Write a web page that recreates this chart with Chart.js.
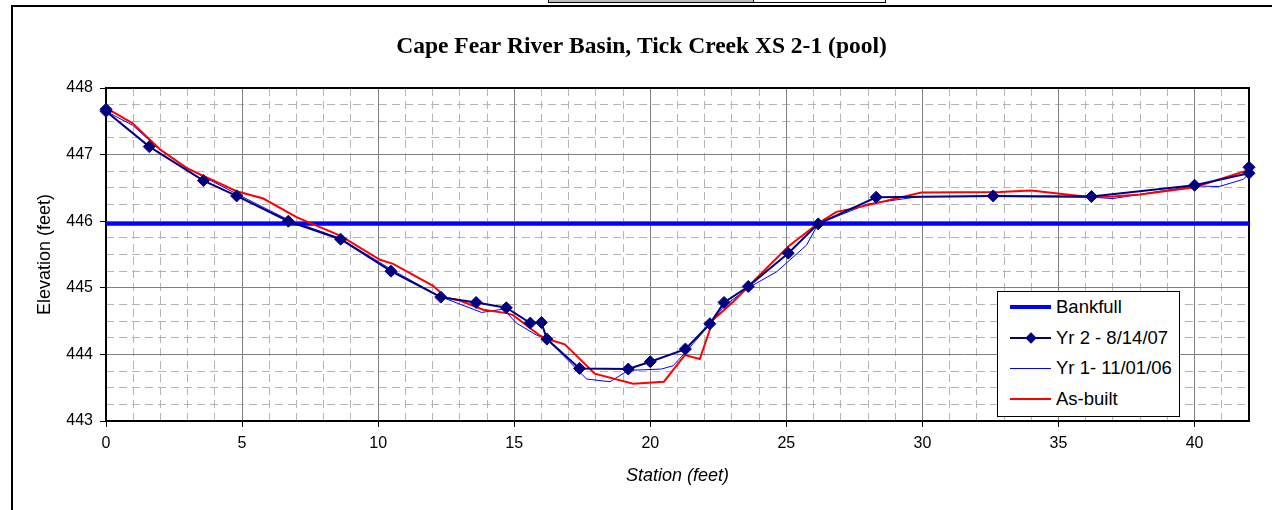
<!DOCTYPE html>
<html>
<head>
<meta charset="utf-8">
<script src="https://cdn.jsdelivr.net/npm/chart.js@4.4.1/dist/chart.umd.min.js"></script>
<style>
  html, body { margin: 0; padding: 0; background: #fff; }
  #wrap { position: relative; width: 1272px; height: 510px; overflow: hidden; background: #fff; }
  #c { position: absolute; left: 0; top: 0; }
  .frameTop { position: absolute; left: 11px; top: 5px; width: 1261px; height: 2px; background: #000; }
  .frameLeft { position: absolute; left: 11px; top: 5px; width: 2px; height: 505px; background: #000; }
  .tab { position: absolute; left: 548px; top: -2px; width: 336px; height: 3px; border: 1px solid #000; background: #fff; }
  .tab .g { position: absolute; left: 0; top: 0; width: 204px; height: 3px; background: #c0c0c0; border-right: 1px solid #000; }
  #legend { position: absolute; left: 997px; top: 291px; width: 181px; height: 124px; border: 1px solid #000; background: #fff;
            font-family: "Liberation Sans", Arial, sans-serif; font-size: 18.5px; color: #000; }
  .row { position: absolute; left: 0; width: 100%; height: 0; }
  .sample { position: absolute; left: 12px; width: 41px; }
  .mark { position: absolute; width: 8px; height: 8px; transform: rotate(45deg); }
  .txt { position: absolute; left: 58px; top: -11px; line-height: 22px; white-space: nowrap; }
</style>
</head>
<body>
<div id="wrap">
  <canvas id="c" width="1272" height="510"></canvas>
  <div class="frameTop"></div>
  <div class="frameLeft"></div>
  <div class="tab"><div class="g"></div></div>
  <div id="legend"></div>
</div>
<script>
// ---- Data ----
const titleText = 'Cape Fear River Basin, Tick Creek XS 2-1 (pool)';
const xAxisTitle = 'Station (feet)';
const yAxisTitle = 'Elevation (feet)';
const seriesNames = ['Bankfull', 'Yr 2 - 8/14/07', 'Yr 1- 11/01/06', 'As-built'];

const xTickValues = [0, 5, 10, 15, 20, 25, 30, 35, 40];
const yTickValues = [443, 444, 445, 446, 447, 448];

const bankfullX = [0, 42];
const bankfullY = [445.96, 445.96];

const yr2X = [0, 0, 1.59, 3.58, 4.80, 6.70, 8.62, 10.47, 12.30, 13.60, 14.71, 15.59, 16.00, 16.20, 17.40,
              19.19, 20.00, 21.29, 22.19, 22.71, 23.60, 25.07, 26.17, 28.30, 32.60, 36.21, 40.00, 42.00, 42.00];
const yr2Y = [447.68, 447.65, 447.12, 446.61, 446.38, 446.00, 445.73, 445.25, 444.86, 444.78, 444.70, 444.47, 444.48, 444.23, 443.79,
              443.78, 443.89, 444.08, 444.46, 444.78, 445.02, 445.52, 445.96, 446.36, 446.38, 446.37, 446.54, 446.72, 446.81];

const yr1X = [0, 0.98, 1.98, 2.96, 4.80, 6.70, 8.62, 10.50, 12.27, 13.80, 14.60, 15.08, 15.82, 16.20, 17.66, 18.52,
              19.19, 20.41, 20.84, 21.29, 22.19, 22.70, 23.60, 24.64, 25.74, 26.17, 26.84, 28.00, 29.90, 32.60, 36.20,
              37.00, 40.00, 40.90, 41.80, 42.00];
const yr1Y = [447.65, 447.44, 447.07, 446.80, 446.41, 446.02, 445.74, 445.27, 444.87, 444.63, 444.68, 444.47, 444.29, 444.23, 443.63, 443.59,
              443.76, 443.78, 443.83, 444.03, 444.45, 444.72, 445.00, 445.24, 445.64, 445.96, 446.07, 446.26, 446.37, 446.37, 446.36,
              446.34, 446.53, 446.52, 446.63, 446.72];

const asBuiltX = [0, 0.98, 1.98, 2.96, 3.58, 4.80, 5.78, 7.00, 8.62, 10.07, 10.55, 12.02, 12.50, 13.00, 13.86, 14.72,
                  14.96, 15.95, 16.30, 16.86, 17.96, 19.37, 20.50, 21.27, 21.82, 22.31, 23.05, 23.60, 25.07, 26.17,
                  26.84, 27.33, 28.19, 29.96, 32.84, 34.00, 36.20, 37.00, 38.00, 40.00, 42.00];
const asBuiltY = [447.70, 447.47, 447.08, 446.80, 446.68, 446.45, 446.34, 446.06, 445.78, 445.42, 445.36, 445.03, 444.85, 444.81, 444.67, 444.62,
                  444.59, 444.28, 444.22, 444.15, 443.71, 443.56, 443.59, 443.99, 443.93, 444.52, 444.79, 445.02, 445.62, 445.97,
                  446.14, 446.18, 446.26, 446.43, 446.44, 446.46, 446.36, 446.37, 446.40, 446.51, 446.77];

// ---- helpers ----
const zip = (xs, ys) => xs.map((x, i) => ({ x: x, y: ys[i] }));
const sans = '"Liberation Sans", Arial, sans-serif';
const serif = '"Liberation Serif", "Times New Roman", serif';

const datasets = [
  { label: seriesNames[0], data: zip(bankfullX, bankfullY), borderColor: '#0000FF', backgroundColor: '#0000FF',
    borderWidth: 4, pointRadius: 0, showLine: true, order: 3, clip: false },
  { label: seriesNames[1], data: zip(yr2X, yr2Y), borderColor: '#000080', backgroundColor: '#000080',
    borderWidth: 2, pointStyle: 'rectRot', pointRadius: 6, pointBorderWidth: 1,
    pointBackgroundColor: '#000080', pointBorderColor: '#000080', showLine: true, order: 0, clip: false },
  { label: seriesNames[2], data: zip(yr1X, yr1Y), borderColor: '#0000FF', backgroundColor: '#0000FF',
    borderWidth: 1, pointRadius: 0, showLine: true, order: 2, clip: false },
  { label: seriesNames[3], data: zip(asBuiltX, asBuiltY), borderColor: '#FF0000', backgroundColor: '#FF0000',
    borderWidth: 2, pointRadius: 0, showLine: true, order: 1, clip: false }
];

const areaBorder = {
  id: 'areaBorder',
  beforeDatasetsDraw(chart) {
    const { ctx, chartArea: a } = chart;
    ctx.save();
    ctx.strokeStyle = '#000';
    ctx.lineWidth = 2;
    ctx.strokeRect(a.left, a.top, a.right - a.left, a.bottom - a.top);
    ctx.restore();
  }
};

const minorXTicks = s => { const t = []; for (let v = s.min; v <= s.max + 1e-9; v += 1) t.push({ value: v }); s.ticks = t; };
const minorYTicks = s => { const t = []; for (let v = s.min; v <= s.max + 1e-9; v += 0.25) t.push({ value: v }); s.ticks = t; };

const chart = new Chart(document.getElementById('c'), {
  type: 'scatter',
  data: { datasets: datasets },
  plugins: [areaBorder],
  options: {
    responsive: false,
    animation: false,
    devicePixelRatio: 1,
    layout: { padding: { left: 34, right: 23, top: 0, bottom: 23 } },
    plugins: {
      legend: { display: false },
      tooltip: { enabled: false },
      title: { display: true, text: titleText, color: '#000',
               font: { family: serif, size: 23.5, weight: 'bold', lineHeight: 1.2 },
               padding: { top: 33, bottom: 26.8 } }
    },
    scales: {
      xm: { type: 'linear', position: 'bottom', min: 0, max: 42,
            afterBuildTicks: minorXTicks, afterFit: s => { s.height = 0; },
            ticks: { display: false }, title: { display: false },
            grid: { color: '#b4b4b4', lineWidth: 1, drawTicks: false, z: -1 },
            border: { display: false, dash: [8, 5] } },
      ym: { type: 'linear', position: 'left', min: 443, max: 448,
            afterBuildTicks: minorYTicks, afterFit: s => { s.width = 0; },
            ticks: { display: false }, title: { display: false },
            grid: { color: '#b4b4b4', lineWidth: 1, drawTicks: false, z: -1 },
            border: { display: false, dash: [8, 5] } },
      x: { type: 'linear', position: 'bottom', min: 0, max: 42,
           afterBuildTicks: s => { s.ticks = xTickValues.map(v => ({ value: v })); },
           afterFit: s => { s.height = 66; },
           grid: { color: '#808080', lineWidth: 1, tickLength: 6, tickColor: '#000', tickWidth: 1 },
           border: { display: true, color: '#000', width: 2 },
           ticks: { padding: 7, color: '#000', autoSkip: false, maxRotation: 0, font: { family: sans, size: 16 } },
           title: { display: true, text: xAxisTitle, color: '#000', padding: { top: 0, bottom: 0 },
                    font: { family: sans, size: 18, style: 'italic', lineHeight: 1.2 } } },
      y: { type: 'linear', position: 'left', min: 443, max: 448,
           afterBuildTicks: s => { s.ticks = yTickValues.map(v => ({ value: v })); },
           afterFit: s => { s.width = 72; },
           grid: { color: '#808080', lineWidth: 1, tickLength: 6, tickColor: '#000', tickWidth: 1 },
           border: { display: true, color: '#000', width: 2 },
           ticks: { padding: 7, color: '#000', autoSkip: false, font: { family: sans, size: 16 } },
           title: { display: true, text: yAxisTitle, color: '#000', padding: { top: 0, bottom: 0 },
                    font: { family: sans, size: 18, lineHeight: 1.2 } } }
    }
  }
});

// ---- HTML legend built from the chart's datasets ----
const legendEl = document.getElementById('legend');
chart.data.datasets.forEach((ds, i) => {
  const row = document.createElement('div');
  row.className = 'row';
  row.style.top = (14.7 + i * 30.8) + 'px';
  const sample = document.createElement('div');
  sample.className = 'sample';
  sample.style.height = ds.borderWidth + 'px';
  sample.style.top = (-ds.borderWidth / 2) + 'px';
  sample.style.background = ds.borderColor;
  row.appendChild(sample);
  if (ds.pointRadius > 0) {
    const m = document.createElement('div');
    m.className = 'mark';
    m.style.background = ds.pointBackgroundColor;
    m.style.left = (12 + 20.5 - 4) + 'px';
    m.style.top = '-4px';
    row.appendChild(m);
  }
  const t = document.createElement('div');
  t.className = 'txt';
  t.textContent = ds.label;
  row.appendChild(t);
  legendEl.appendChild(row);
});
</script>
</body>
</html>
